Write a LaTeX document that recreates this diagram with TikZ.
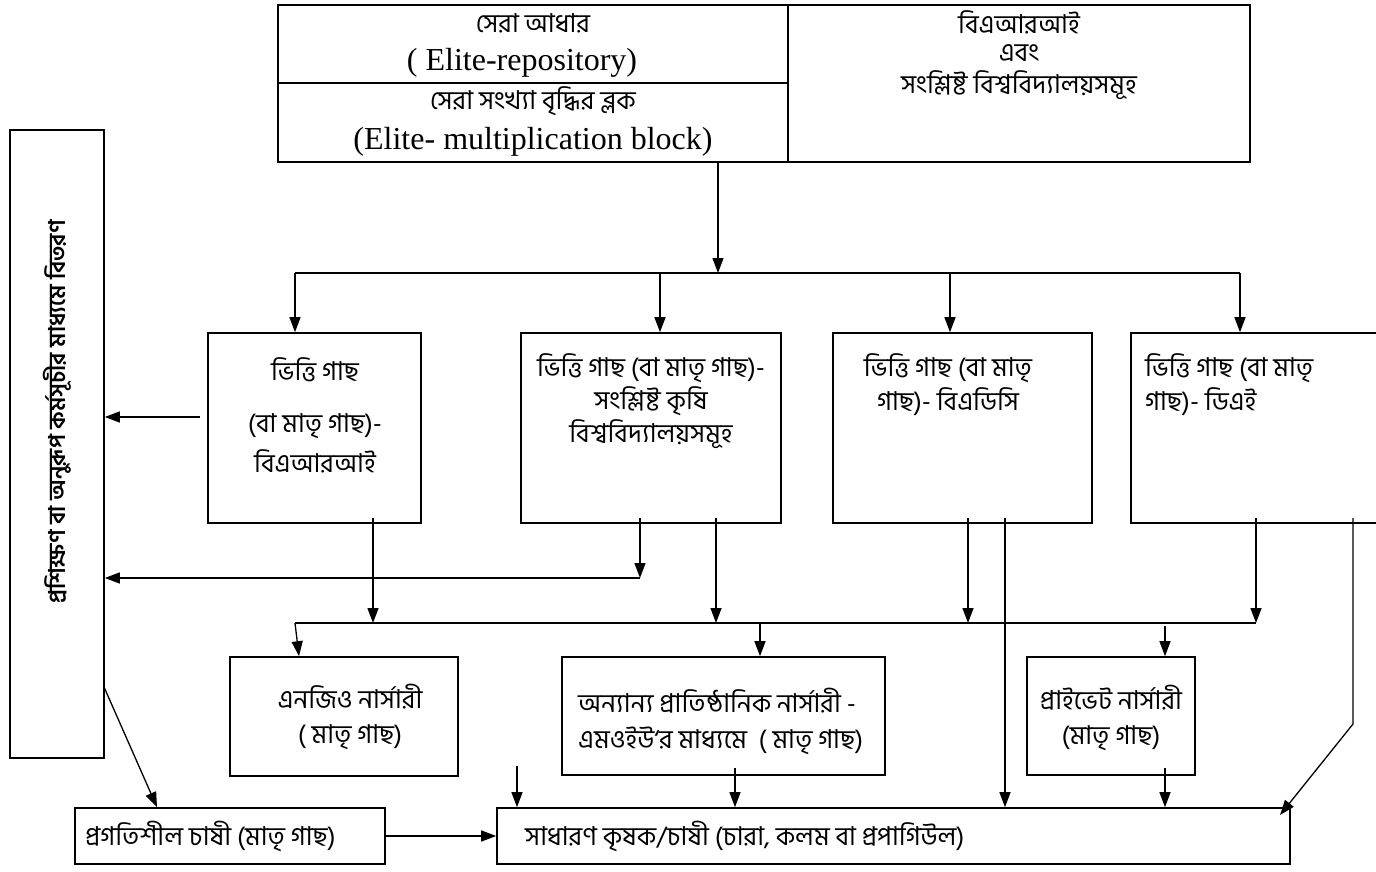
\documentclass[tikz,border=0pt]{standalone}
\usepackage{fontspec}
\setmainfont{Liberation Serif}
\newfontfamily\bn[Script=Bengali]{Hind Siliguri}
\usetikzlibrary{arrows.meta}
\begin{document}
\begin{tikzpicture}[x=1pt,y=-1pt,
  box/.style={draw, line width=1.6pt, inner sep=0pt},
  lbl/.style={font=\bn\fontsize{26}{30}\selectfont, inner sep=0pt},
  lat/.style={font=\fontsize{32}{35}\selectfont, inner sep=0pt},
  arr/.style={line width=1.3pt, -{Triangle[length=15pt,width=11pt]}},
  ln/.style={line width=1.3pt}]
\clip (0,0) rectangle (1376,872);
\fill[white] (0,0) rectangle (1376,872);
% top block
\node[box,minimum width=510pt,minimum height=78pt] (topA) at (533,44) {};
\node[box,minimum width=510pt,minimum height=79pt] (topB) at (533,122.5) {};
\node[box,minimum width=462pt,minimum height=157pt] (topC) at (1019,83.5) {};
\node[lbl] (tA1) at (533,23) {সেরা আধার};
\node[lat] (tA2) at (522,63) {( Elite-repository)};
\node[lbl] (tB1) at (533,101) {সেরা সংখ্যা বৃদ্ধির ব্লক};
\node[lat] (tB2) at (533,142) {(Elite- multiplication block)};
\node[lbl] (tC1) at (1019,22) {বিএআরআই};
\node[lbl] (tC2) at (1019,53) {এবং};
\node[lbl] (tC3) at (1019,85) {সংশ্লিষ্ট বিশ্ববিদ্যালয়সমূহ};
% first distribution line
\coordinate (hub) at (718,273);
\draw[arr] (topB.south -| hub) -- (hub);
\coordinate (hL) at (295,273);
\coordinate (d2) at (660,273);
\coordinate (d3) at (950,273);
\coordinate (hR) at (1240,273);
\draw[ln] (hL) -- (hR);
% second row boxes
\node[box,minimum width=213pt,minimum height=190pt] (b1) at (314.5,428) {};
\node[box,minimum width=260pt,minimum height=190pt] (b2) at (651,428) {};
\node[box,minimum width=259pt,minimum height=190pt] (b3) at (962.5,428) {};
\node[box,minimum width=300pt,minimum height=190pt] (b4) at (1281,428) {};
\draw[arr] (hL) -- (hL |- b1.north);
\draw[arr] (d2) -- (d2 |- b2.north);
\draw[arr] (d3) -- (d3 |- b3.north);
\draw[arr] (hR) -- (hR |- b4.north);
\node[lbl] (b1t1) at (315,370) {ভিত্তি গাছ};
\node[lbl] (b1t2) at (315,426) {(বা মাতৃ গাছ)-};
\node[lbl] (b1t3) at (315,461) {বিএআরআই};
\node[lbl] (b2t1) at (651,368) {ভিত্তি গাছ (বা মাতৃ গাছ)-};
\node[lbl] (b2t2) at (651,401) {সংশ্লিষ্ট কৃষি};
\node[lbl] (b2t3) at (651,434) {বিশ্ববিদ্যালয়সমূহ};
\node[lbl] (b3t1) at (948,368) {ভিত্তি গাছ (বা মাতৃ};
\node[lbl] (b3t2) at (948,402) {গাছ)- বিএডিসি};
\node[lbl,anchor=west] (b4t1) at (1145,368) {ভিত্তি গাছ (বা মাতৃ};
\node[lbl,anchor=west] (b4t2) at (1145,402) {গাছ)- ডিএই};
% left box
\node[box,minimum width=94pt,minimum height=628pt] (L) at (57,444) {};
\node[lbl,font=\bn\bfseries\fontsize{23}{27}\selectfont,rotate=90] (Lt) at (57,412) {প্রশিক্ষণ বা অনুরূপ কর্মসূচীর মাধ্যমে বিতরণ};
\coordinate (c1) at (200,417);
\draw[arr] (c1) -- (c1 -| L.east);
\coordinate (c2a) at (640,518);
\coordinate (c2b) at (640,578);
\draw[arr] (c2a) -- (c2b);
\draw[arr] (c2b) -- (c2b -| L.east);
% second distribution line
\coordinate (gL) at (295,623);
\coordinate (gR) at (1256,623);
\draw[ln] (gL) -- (gR);
\coordinate (e1) at (373,518);
\coordinate (e2) at (716,518);
\coordinate (e3) at (968,518);
\coordinate (e4) at (1256,518);
\draw[arr] (e1) -- (e1 |- gL);
\draw[arr] (e2) -- (e2 |- gL);
\draw[arr] (e3) -- (e3 |- gL);
\draw[arr] (e4) -- (e4 |- gL);
% third row boxes
\node[box,minimum width=228pt,minimum height=119pt] (ngo) at (344,716.5) {};
\node[box,minimum width=323pt,minimum height=118pt] (oth) at (723.5,716) {};
\node[box,minimum width=168pt,minimum height=118pt] (prv) at (1111,716) {};
\coordinate (f1) at (299,657);
\coordinate (f2) at (760,623);
\coordinate (f3) at (1165,626);
\draw[arr] (gL) -- (f1 |- ngo.north);
\draw[arr] (f2) -- (f2 |- oth.north);
\draw[arr] (f3) -- (f3 |- prv.north);
\node[lbl] (ngot1) at (350,697) {এনজিও নার্সারী};
\node[lbl] (ngot2) at (350,737) {( মাতৃ গাছ)};
\node[lbl,anchor=west] (otht1) at (578,701) {অন্যান্য প্রাতিষ্ঠানিক নার্সারী -};
\node[lbl,anchor=west] (otht2) at (578,741) {এমওইউ‘র মাধ্যমে \ ( মাতৃ গাছ)};
\node[lbl] (prvt1) at (1111,698) {প্রাইভেট নার্সারী};
\node[lbl] (prvt2) at (1111,738) {(মাতৃ গাছ)};
% bottom row
\node[box,minimum width=310pt,minimum height=56pt] (prog) at (230,836) {};
\node[box,minimum width=793pt,minimum height=56pt] (gen) at (893.5,836) {};
\node[lbl,anchor=west] (progt) at (85,836) {প্রগতিশীল চাষী (মাতৃ গাছ)};
\node[lbl,anchor=west] (gent) at (525,836) {সাধারণ কৃষক/চাষী (চারা, কলম বা প্রপাগিউল)};
\coordinate (g1) at (104,687);
\coordinate (g1e) at (157,808);
\draw[arr] (g1) -- (g1e |- prog.north);
\draw[arr] (prog.east) -- (gen.west);
\coordinate (h1) at (517,766);
\coordinate (h2) at (735,768);
\coordinate (h3) at (1005,518);
\coordinate (h4) at (1165,768);
\draw[arr] (h1) -- (h1 |- gen.north);
\draw[arr] (h2) -- (h2 |- gen.north);
\draw[arr] (h3) -- (h3 |- gen.north);
\draw[arr] (h4) -- (h4 |- gen.north);
\coordinate (k1) at (1353,518);
\coordinate (k2) at (1353,724);
\coordinate (k3) at (1280,815);
\draw[arr] (k1) -- (k2) -- (k3);
\end{tikzpicture}
\end{document}
